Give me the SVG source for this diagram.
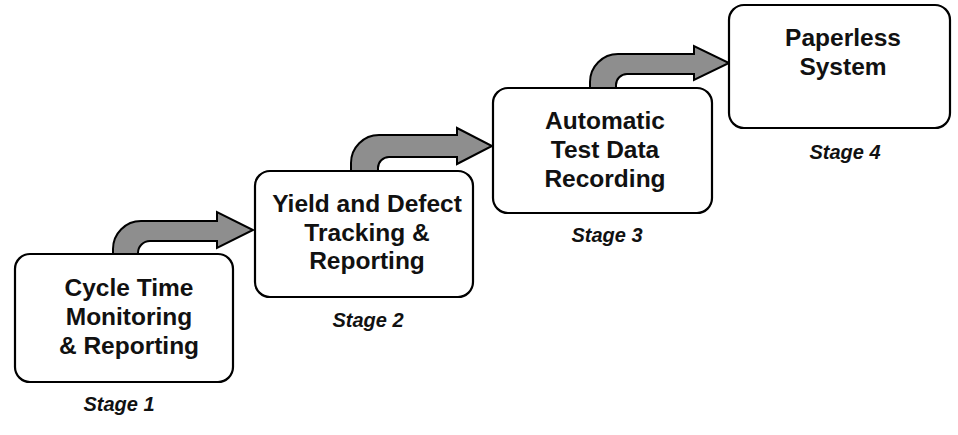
<svg xmlns="http://www.w3.org/2000/svg" width="958" height="435" viewBox="0 0 958 435">
<style>
.box{fill:#fff;stroke:#000;stroke-width:2.2}
.t{font-family:"Liberation Sans",Arial,sans-serif;font-weight:bold;font-size:24.5px;text-anchor:middle;fill:#111}
.s{font-family:"Liberation Sans",Arial,sans-serif;font-weight:bold;font-style:italic;font-size:20px;text-anchor:middle;fill:#111}
.arr{fill:#8e8e8e;stroke:#000;stroke-width:2;stroke-linejoin:miter}
</style>
<rect width="958" height="435" fill="#fff"/>
<g id="connectors">
<path class="arr" d="M113,254 L113,249 A28,28 0 0 1 141,221 L217,221 L217,212 L253,230 L217,248 L217,241 L150,241 A12,12 0 0 0 138,253 L138,254 Z"/>
<path class="arr" d="M351,171 L351,163 A28,28 0 0 1 379,135 L457,135 L457,128 L492,146 L457,164 L457,157 L389,157 A11,11 0 0 0 378,168 L378,171 Z"/>
<path class="arr" d="M590,88 L590,82 A28,28 0 0 1 618,54 L694,54 L694,46 L729,63 L694,80 L694,74 L627,74 A11,11 0 0 0 616,85 L616,88 Z"/>
</g>
<g id="stage1">
<rect class="box" x="15" y="254" width="218" height="128" rx="15"/>
<text class="t" x="129" y="296">Cycle Time</text>
<text class="t" x="129" y="325">Monitoring</text>
<text class="t" x="129" y="354">&amp; Reporting</text>
<text class="s" x="119" y="411">Stage 1</text>
</g>
<g id="stage2">
<rect class="box" x="255" y="171" width="218" height="126" rx="15"/>
<text class="t" x="367" y="212">Yield and Defect</text>
<text class="t" x="367" y="241">Tracking &amp;</text>
<text class="t" x="367" y="269">Reporting</text>
<text class="s" x="368" y="327">Stage 2</text>
</g>
<g id="stage3">
<rect class="box" x="493" y="88" width="219" height="125" rx="15"/>
<text class="t" x="605" y="129">Automatic</text>
<text class="t" x="605" y="158">Test Data</text>
<text class="t" x="605" y="187">Recording</text>
<text class="s" x="607" y="242">Stage 3</text>
</g>
<g id="stage4">
<rect class="box" x="729" y="5" width="221" height="123" rx="15"/>
<text class="t" x="843" y="46">Paperless</text>
<text class="t" x="843" y="75">System</text>
<text class="s" x="845" y="159">Stage 4</text>
</g>
</svg>
